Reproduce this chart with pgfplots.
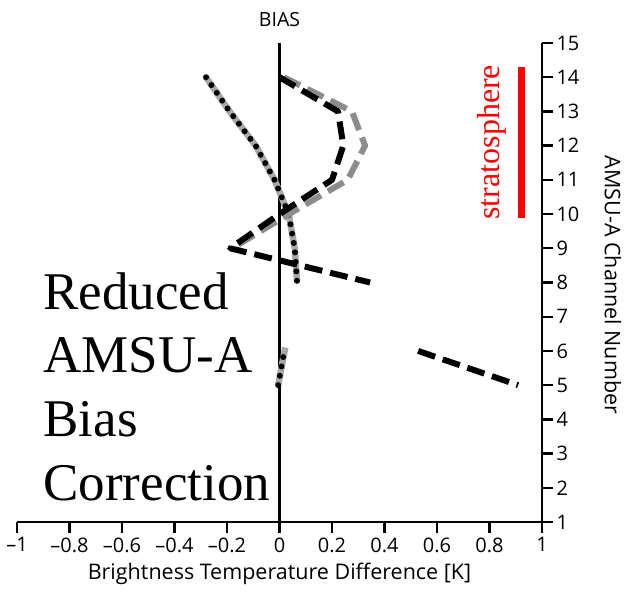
\documentclass[border=0pt]{standalone}
\usepackage{fontspec}
\setmainfont{Open Sans}
\newfontfamily\timesf{Liberation Serif}
\usepackage{pgfplots}
\pgfplotsset{compat=1.18}
\definecolor{gdash}{RGB}{140,140,140}
\definecolor{gdot}{RGB}{168,168,168}
\begin{document}
\begin{tikzpicture}
\useasboundingbox (-17pt,-78pt) rectangle (607pt,522pt);
\begin{axis}[
  at={(0,0)}, anchor=south west,
  scale only axis, width=525pt, height=479pt,
  xmin=-1, xmax=1, ymin=1, ymax=15,
  axis x line=bottom, axis y line=right,
  axis line style={-, line width=2.3pt},
  xtick={-1,-0.8,-0.6,-0.4,-0.2,0,0.2,0.4,0.6,0.8,1},
  xticklabels={\textendash1,\textendash0.8,\textendash0.6,\textendash0.4,\textendash0.2,0,0.2,0.4,0.6,0.8,1},
  ytick={1,2,...,15},
  /pgf/number format/assume math mode=true,
  tick align=outside, major tick length=11pt,
  tick style={line width=2.3pt, black},
  tick label style={font=\fontsize{20}{23}\selectfont},
  xticklabel style={yshift=-1pt},
  xlabel={Brightness Temperature Difference [K]},
  label style={font=\fontsize{21.5}{24}\selectfont},
  xlabel style={yshift=-4pt},
  clip=false,
]
\draw[line width=2.3pt] (axis cs:0,1) -- (axis cs:0,15);
\node[anchor=base, font=\fontsize{19.5}{22}\selectfont] at ([yshift=16pt]axis cs:0,15) {BIAS};
\node[rotate=-90, font=\fontsize{21.5}{24}\selectfont] at (axis cs:1.27,7.93) {AMSU-A Channel Number};
% dotted series
\addplot[gdot, line width=6.5pt, line join=round] coordinates {(-0.28,14) (-0.19,13) (-0.091,12) (-0.019,11) (0.035,10) (0.058,9) (0.067,8)};
\addplot[black, line width=6pt, line cap=round, dash pattern=on 0pt off 9.5pt] coordinates {(-0.28,14) (-0.19,13) (-0.091,12) (-0.019,11) (0.035,10) (0.058,9) (0.067,8)};
\addplot[gdot, line width=6.5pt, line join=round] coordinates {(-0.005,5) (0.022,6.1)};
\addplot[black, line width=6pt, line cap=round, dash pattern=on 0pt off 9.5pt] coordinates {(-0.005,5) (0.018,6)};
% gray dashed
\addplot[gdash, line width=6pt, line join=round, dash pattern=on 18pt off 8pt] coordinates {(0.017,14) (0.276,13) (0.326,12) (0.26,11) (0.036,10) (-0.18,9)};
% black dashed
\addplot[black, line width=6pt, line join=round, dash pattern=on 18pt off 8pt] coordinates {(0,14) (0.223,13) (0.243,12) (0.20,11) (0.0,10) (-0.188,9) (0.345,8)};
\addplot[black, line width=6pt, dash pattern=on 18pt off 8pt] coordinates {(0.528,6) (0.909,5)};
% stratosphere bar
\addplot[red, line width=7pt] coordinates {(0.922,9.89) (0.922,14.3)};
\node[red, rotate=90, font=\timesf\fontsize{32}{36}\selectfont] at (axis cs:0.81,12.1) {stratosphere};
% big text
\node[anchor=base west, inner sep=0pt, font=\timesf\fontsize{53}{63}\selectfont] at (axis cs:-0.9,7.199) {Reduced};
\node[anchor=base west, inner sep=0pt, font=\timesf\fontsize{53}{63}\selectfont] at (axis cs:-0.9,5.357) {AMSU-A};
\node[anchor=base west, inner sep=0pt, font=\timesf\fontsize{53}{63}\selectfont] at (axis cs:-0.9,3.485) {Bias};
\node[anchor=base west, inner sep=0pt, font=\timesf\fontsize{53}{63}\selectfont] at (axis cs:-0.9,1.643) {Correction};
\end{axis}
\end{tikzpicture}
\end{document}
